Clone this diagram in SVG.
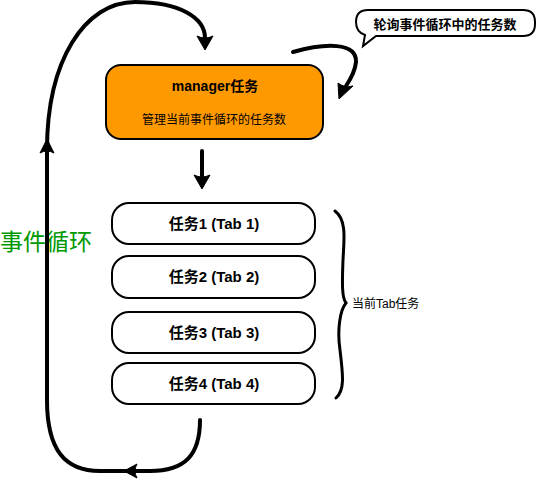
<svg xmlns="http://www.w3.org/2000/svg" width="536" height="482" viewBox="0 0 536 482">
<style>
.t{font-family:"Liberation Sans","Noto Sans CJK SC",sans-serif;fill:#000;}
.box{fill:#fff;stroke:#000;stroke-width:2;}
.tab{font-size:15px;font-weight:bold;text-anchor:middle;}
.ln{fill:none;stroke:#000;stroke-width:4;stroke-linecap:round;}
.ah{fill:#000;stroke:#000;stroke-width:1;stroke-linejoin:round;}
</style>
<rect width="536" height="482" fill="#fff"/>
<text x="0" y="250" font-size="23" style="font-family:'Noto Sans CJK SC',sans-serif;fill:#009900">事件循环</text>
<g id="connectors">
<path class="ln" d="M200 420 C200 455 185 471 150 471 L100 471 C65 471 47 450 47 400 L47 150 C47 60 85 2 135 2 C180 2 205 18 205 38"/>
<path class="ah" d="M205 50 L197 36 Q205 40 213 36 Z"/>
<path class="ah" d="M47 139 L40 153 Q47 149 54 153 Z"/>
<path class="ah" d="M124 471 L137 464 Q133 471 137 478 Z"/>
<path class="ln" d="M293 52 C325 43 357 42 356 62 C355 72 350 80 346 86"/>
<path class="ah" d="M339 99 L338 83 Q344 88 353 86 Z"/>
<path class="ln" d="M202 151 L202 176"/>
<path class="ah" d="M202 189 L194 175 Q202 179 210 175 Z"/>
<path fill="none" stroke="#000" stroke-width="3" stroke-linecap="round" d="M335 211 C347 220 344 240 343 260 C342 285 342 298 346 303 C340 310 337 330 340 350 C343 375 345 390 336 398"/>
</g>
<g id="bubble">
<path fill="#fff" stroke="#000" stroke-width="2" d="M368 10 L523 10 Q535 10 535 22 L535 24 Q535 36 523 36 L376 36 L363 46 L365 35 Q356 32 356 22 Q356 10 368 10 Z"/>
<text class="t" x="445" y="29" font-size="13" font-weight="bold" text-anchor="middle">轮询事件循环中的任务数</text>
</g>
<g id="manager">
<rect x="106" y="65" width="217" height="74" rx="15" fill="#FF9900" stroke="#000" stroke-width="2"/>
<text class="t" x="215" y="91" font-size="14" font-weight="bold" text-anchor="middle">manager任务</text>
<text class="t" x="214" y="124" font-size="12" text-anchor="middle">管理当前事件循环的任务数</text>
</g>
<g id="tab1">
<rect class="box" x="112" y="203" width="203" height="41" rx="17"/>
<text class="t tab" x="214" y="229">任务1 (Tab 1)</text>
</g>
<g id="tab2">
<rect class="box" x="112" y="256" width="203" height="42" rx="17"/>
<text class="t tab" x="214" y="282">任务2 (Tab 2)</text>
</g>
<g id="tab3">
<rect class="box" x="112" y="312" width="203" height="41" rx="17"/>
<text class="t tab" x="214" y="338">任务3 (Tab 3)</text>
</g>
<g id="tab4">
<rect class="box" x="112" y="363" width="203" height="41" rx="17"/>
<text class="t tab" x="214" y="389">任务4 (Tab 4)</text>
</g>
<text class="t" x="352" y="308" font-size="12">当前Tab任务</text>
</svg>
